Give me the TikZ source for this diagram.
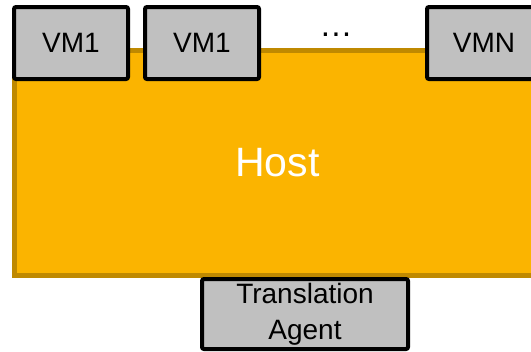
\documentclass[tikz,border=0pt]{standalone}
\usepackage{fontspec}
\setmainfont{Liberation Sans}
\definecolor{hostfill}{RGB}{251,180,0}
\definecolor{hostline}{RGB}{191,137,0}
\definecolor{boxfill}{RGB}{192,192,192}
\begin{document}
\begin{tikzpicture}[x=0.75pt,y=-0.75pt,
  hostbox/.style={draw=hostline, fill=hostfill, line width=3.75pt, inner sep=0pt,
    minimum width=394.5pt, minimum height=168.4pt, text=white,
    font=\fontsize{30.75}{36}\selectfont},
  vmbox/.style={draw=black, fill=boxfill, line width=3pt, rounded corners=1.5pt, inner sep=0pt,
    minimum width=85.5pt, minimum height=54pt, font=\fontsize{21}{26}\selectfont},
  agentbox/.style={draw=black, fill=boxfill, line width=3pt, rounded corners=1.5pt, inner sep=0pt,
    minimum width=154.5pt, minimum height=52.5pt, align=center,
    font=\fontsize{21}{27}\selectfont}]
\useasboundingbox (0,0) rectangle (531,351);
\clip (0,0) rectangle (531,351);
\node[hostbox] (host) at (277.5,162.75) {Host};
\node[vmbox] (vm1) at (71,43) {VM1};
\node[vmbox] (vm2) at (202,43) {VM1};
\node[vmbox] (vmn) at (484,43) {VMN};
\node[inner sep=0pt, font=\fontsize{25}{28}\selectfont] (dots) at (336,35) {…};
\node[agentbox] (agent) at (305,314) {Translation\\Agent};
\end{tikzpicture}
\end{document}
